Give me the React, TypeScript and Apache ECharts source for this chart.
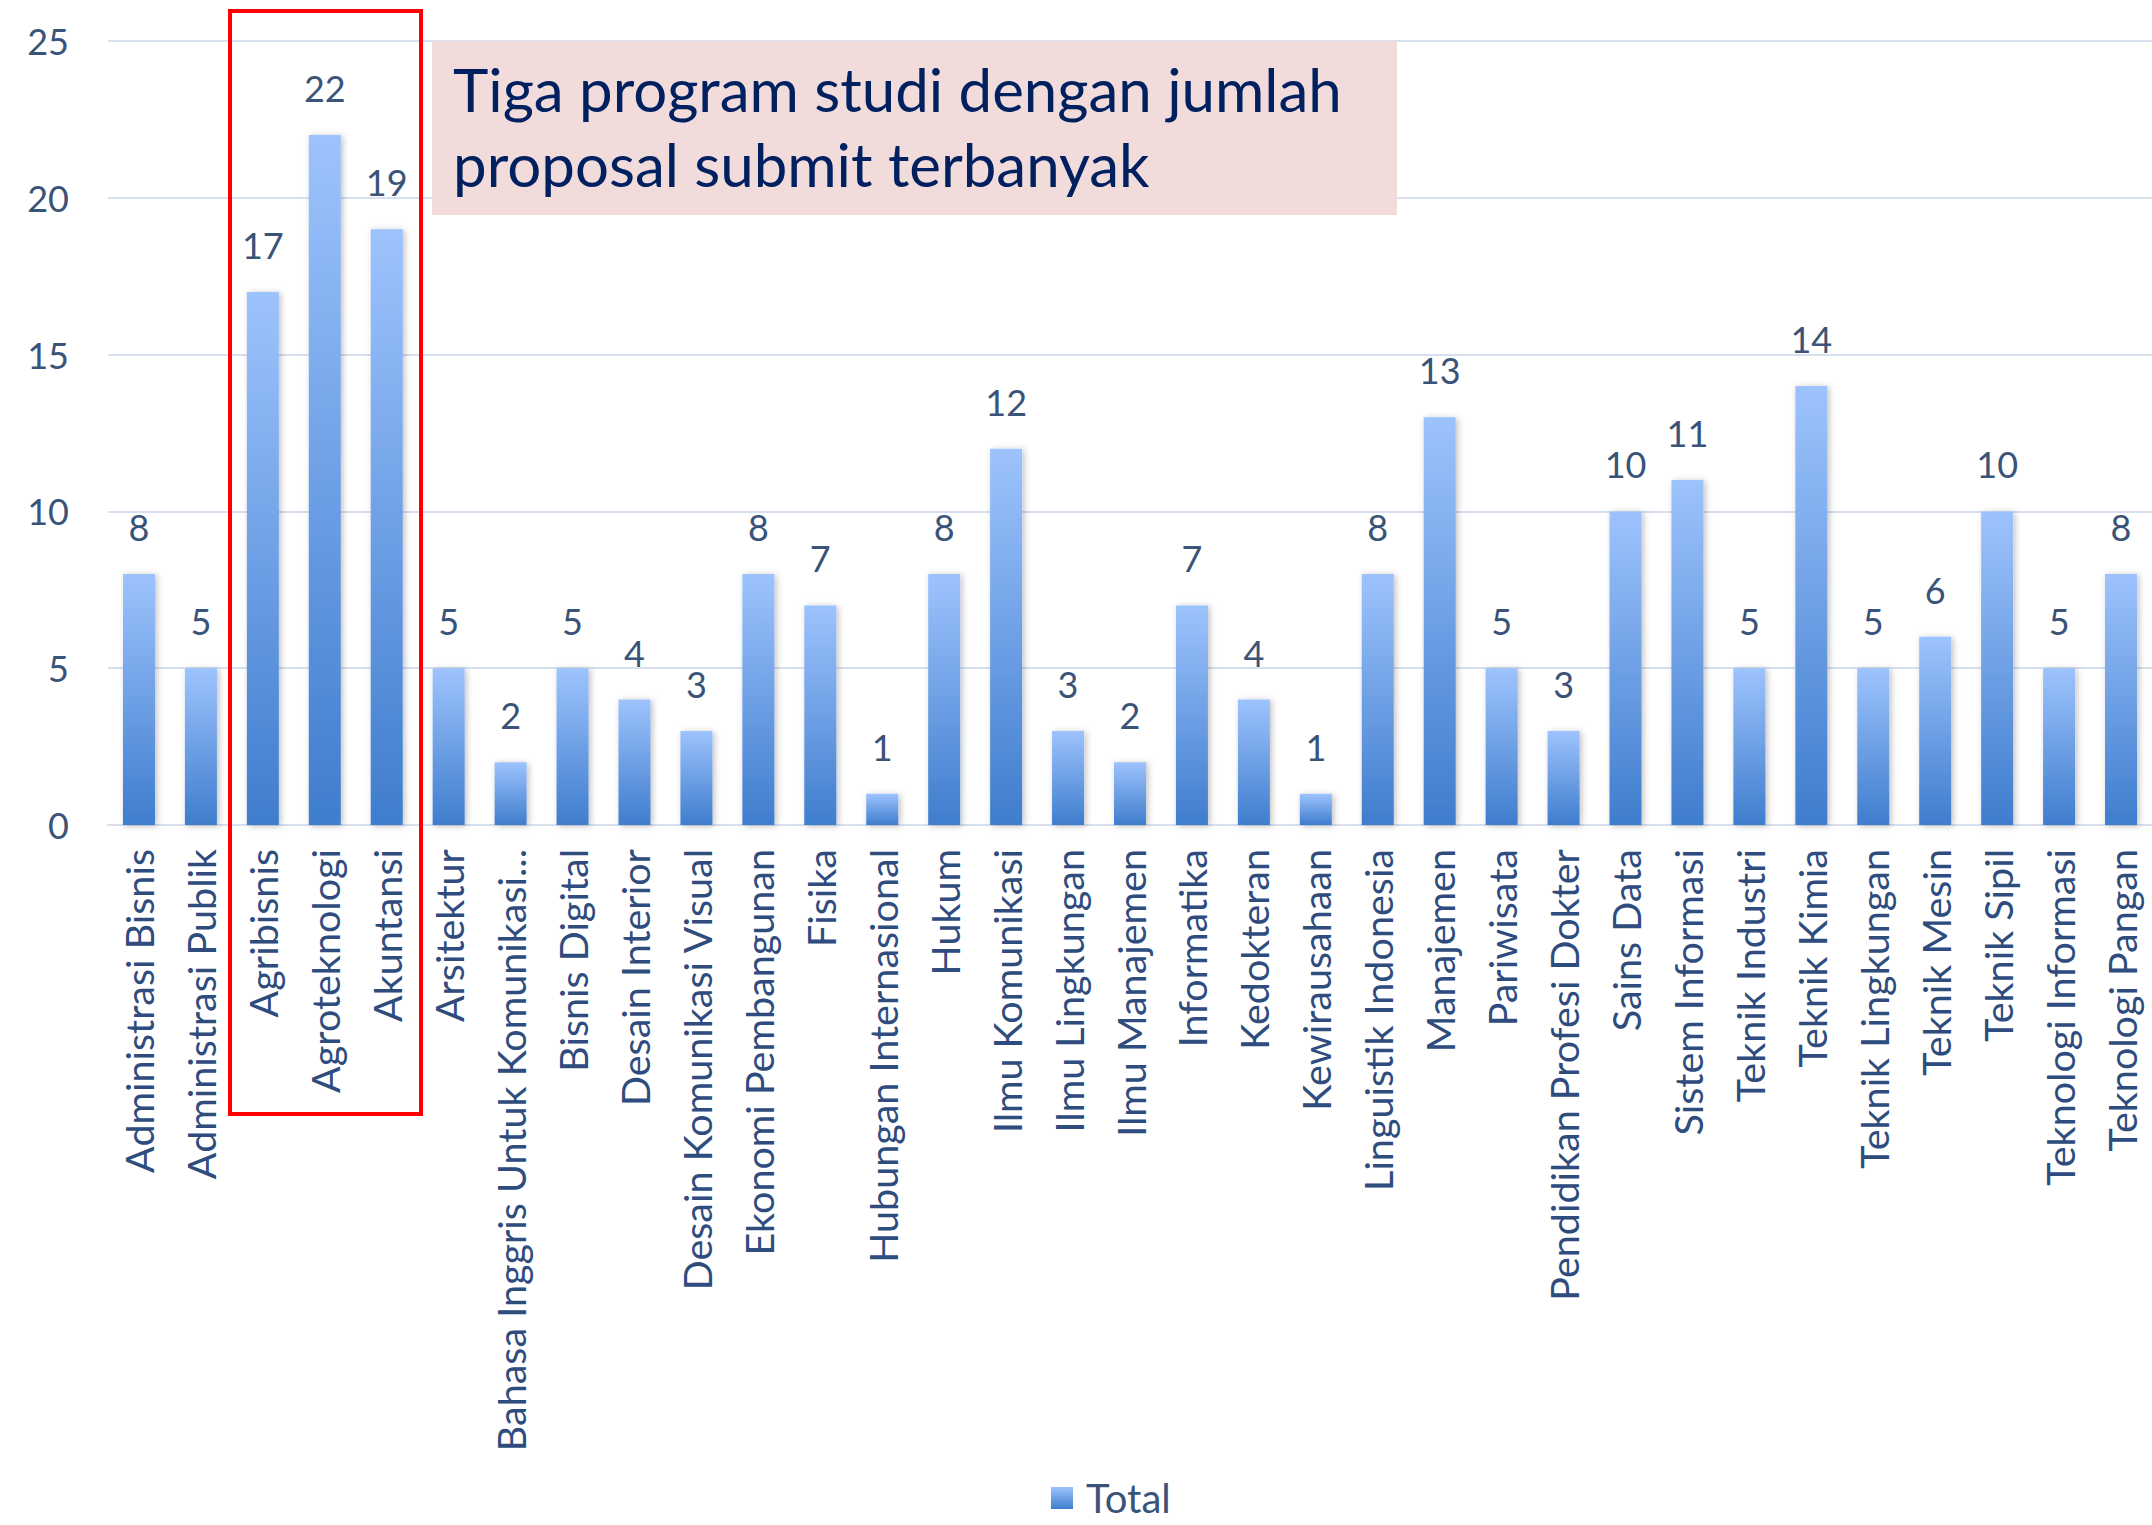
import React, { useEffect, useRef } from "react";
import * as echarts from "echarts";

const categories = [
  "Administrasi Bisnis", "Administrasi Publik", "Agribisnis", "Agroteknologi", "Akuntansi",
  "Arsitektur", "Bahasa Inggris Untuk Komunikasi...", "Bisnis Digital", "Desain Interior",
  "Desain Komunikasi Visual", "Ekonomi Pembangunan", "Fisika", "Hubungan Internasional", "Hukum",
  "Ilmu Komunikasi", "Ilmu Lingkungan", "Ilmu Manajemen", "Informatika", "Kedokteran",
  "Kewirausahaan", "Linguistik Indonesia", "Manajemen", "Pariwisata", "Pendidikan Profesi Dokter",
  "Sains Data", "Sistem Informasi", "Teknik Industri", "Teknik Kimia", "Teknik Lingkungan",
  "Teknik Mesin", "Teknik Sipil", "Teknologi Informasi", "Teknologi Pangan",
];
const totals = [8, 5, 17, 22, 19, 5, 2, 5, 4, 3, 8, 7, 1, 8, 12, 3, 2, 7, 4, 1, 8, 13, 5, 3, 10, 11, 5, 14, 5, 6, 10, 5, 8];
const seriesName = "Total";
const annotationLines = ["Tiga program studi dengan jumlah", "proposal submit terbanyak"];

export default function App() {
  const ref = useRef<HTMLDivElement>(null);
  useEffect(() => {
    if (!ref.current) return;
    const chart = echarts.init(ref.current, undefined, { renderer: "svg" });
    const textColor = "#2F4C7E";
    const font = "Lato";
    const grad = new echarts.graphic.LinearGradient(0, 0, 0, 1, [
      { offset: 0, color: "#9DC3FD" },
      { offset: 1, color: "#3F7DCD" },
    ]);
    chart.setOption({
      animation: false,
      backgroundColor: "#ffffff",
      grid: { left: 108, right: -2, top: 41, bottom: 700, containLabel: false },
      xAxis: {
        type: "category",
        data: categories,
        axisTick: { show: false },
        axisLine: { show: true, lineStyle: { color: "#D6E0EE", width: 2 } },
        axisLabel: {
          interval: 0,
          rotate: 90,
          margin: 24,
          fontFamily: font,
          fontSize: 39.5,
          color: textColor,
        },
      },
      yAxis: {
        type: "value",
        min: 0,
        max: 25,
        interval: 5,
        axisLine: { show: false },
        axisTick: { show: false },
        splitLine: { lineStyle: { color: "#D6E0EE", width: 2 } },
        axisLabel: { margin: 39, fontFamily: font, fontSize: 36, color: "#3A5378" },
      },
      legend: {
        bottom: 2,
        left: 1046,
        itemWidth: 22,
        itemHeight: 22,
        icon: "rect",
        textStyle: { fontFamily: font, fontSize: 40, color: "#3A5378", padding: [0, 0, 0, 8] },
        data: [seriesName],
      },
      series: [
        {
          name: seriesName,
          type: "bar",
          data: totals,
          barWidth: 32,
          itemStyle: {
            color: grad,
            shadowBlur: 6,
            shadowColor: "rgba(0,0,0,0.25)",
            shadowOffsetX: 2,
            shadowOffsetY: 1,
          },
          label: {
            show: true,
            position: "top",
            distance: 29,
            fontFamily: font,
            fontSize: 36,
            color: "#3A5378",
          },
        },
      ],
      graphic: [
        {
          type: "rect",
          shape: { x: 432, y: 41, width: 965, height: 174 },
          style: { fill: "#F2DCDB" },
          z: 10,
        },
        {
          type: "text",
          x: 453,
          y: 51,
          z: 11,
          style: {
            text: annotationLines.join("\n"),
            fontFamily: font,
            fontSize: 60,
            lineHeight: 75,
            fill: "#002060",
          },
        },
        {
          type: "rect",
          shape: { x: 230, y: 11, width: 191, height: 1103 },
          style: { fill: "none", stroke: "#FF0000", lineWidth: 4 },
          z: 12,
        },
      ],
    });
    return () => chart.dispose();
  }, []);
  return (
    <div
      ref={ref}
      style={{ position: "fixed", left: 0, top: 0, width: 2152, height: 1525 }}
    />
  );
}
